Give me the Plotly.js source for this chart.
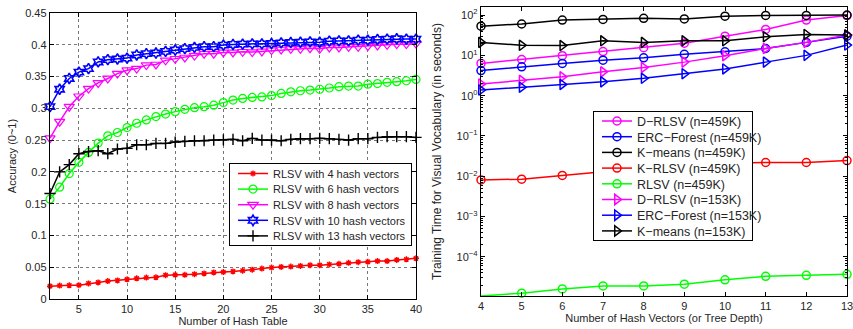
<!DOCTYPE html>
<html>
<head>
<meta charset="utf-8">
<script src="https://cdn.plot.ly/plotly-3.0.1.min.js"></script>
<style>html,body{margin:0;padding:0;background:#fff}#chart{width:853px;height:329px}</style>
</head>
<body>
<div id="chart"></div>
<script>
// ---------- Left chart data ----------
const hashTables = [];
for (let t = 2; t <= 40; t++) hashTables.push(t);
const acc4 = [0.0201,0.0212,0.0215,0.0218,0.0244,0.026,0.0282,0.0293,0.031,0.0326,0.0337,0.0342,0.0375,0.038,0.038,0.039,0.0402,0.0418,0.0424,0.0434,0.0445,0.0462,0.0478,0.0494,0.0505,0.051,0.0521,0.0532,0.0532,0.0543,0.0554,0.057,0.058,0.0586,0.0597,0.0597,0.0614,0.0624,0.064];
const acc6 = [0.157,0.176,0.1974,0.215,0.2307,0.2453,0.2567,0.262,0.2698,0.2765,0.2818,0.287,0.291,0.2948,0.2984,0.301,0.3026,0.305,0.309,0.313,0.3156,0.3172,0.318,0.320,0.3235,0.326,0.3277,0.3287,0.330,0.332,0.334,0.335,0.335,0.338,0.339,0.341,0.342,0.3434,0.3455];
const acc8 = [0.253,0.279,0.3026,0.319,0.331,0.340,0.347,0.3547,0.360,0.3625,0.368,0.369,0.3755,0.378,0.380,0.383,0.386,0.386,0.388,0.388,0.389,0.3885,0.3895,0.3916,0.3926,0.3937,0.3937,0.3947,0.3937,0.3958,0.3958,0.3968,0.3968,0.398,0.399,0.400,0.401,0.401,0.402];
const acc10 = [0.3026,0.330,0.347,0.357,0.3625,0.373,0.3766,0.3776,0.379,0.384,0.386,0.387,0.3896,0.3917,0.394,0.396,0.397,0.397,0.3995,0.4005,0.401,0.4015,0.4015,0.402,0.403,0.4036,0.404,0.4046,0.404,0.4057,0.4062,0.4062,0.4073,0.4073,0.4083,0.4089,0.4094,0.4089,0.4089];
const acc13 = [0.166,0.200,0.2115,0.2286,0.232,0.2333,0.2286,0.236,0.237,0.2427,0.2427,0.2448,0.2448,0.247,0.248,0.249,0.249,0.250,0.2505,0.2512,0.249,0.2528,0.2501,0.2501,0.249,0.2512,0.2522,0.2522,0.2528,0.2522,0.2512,0.2501,0.2522,0.2522,0.2543,0.2554,0.2554,0.2554,0.2543];
const leftNames = ["RLSV with 4 hash vectors","RLSV with 6 hash vectors","RLSV with 8 hash vectors","RLSV with 10 hash vectors","RLSV with 13 hash vectors"];
const leftXTicks = [5,10,15,20,25,30,35,40];

// ---------- Right chart data ----------
const depths = [4,5,6,7,8,9,10,11,12,13];
const dRlsv459 = [6.3,7.9,9.8,12.4,15.5,20,30,44,75,97];
const erc459 = [4.2,5.2,6.3,7.6,8.7,10.6,12.3,14.8,21,30];
const kmeans459 = [53,60,75,78,83,80,94,98,98,100];
const kRlsv459 = [0.0081,0.0085,0.0105,0.013,0.016,0.019,0.021,0.022,0.022,0.0245];
const rlsv459 = [1.07e-5,1.26e-5,1.6e-5,1.9e-5,1.9e-5,2.1e-5,2.7e-5,3.3e-5,3.5e-5,3.7e-5];
const dRlsv153 = [1.95,2.4,2.95,3.9,5.0,6.8,9.8,14.8,21,32];
const erc153 = [1.38,1.62,1.9,2.2,2.7,3.5,4.6,6.8,10,18];
const kmeans153 = [21,17.8,17.5,23,21,23,23,29,33,32];
const rightNames = ["D\u2212RLSV (n=459K)","ERC\u2212Forest (n=459K)","K\u2212means (n=459K)","K\u2212RLSV (n=459K)","RLSV (n=459K)","D\u2212RLSV (n=153K)","ERC\u2212Forest (n=153K)","K\u2212means (n=153K)"];
const logTickVals = [1e-4,1e-3,1e-2,1e-1,1,10,100];
const logTickText = ["10<sup>\u22124</sup>","10<sup>\u22123</sup>","10<sup>\u22122</sup>","10<sup>\u22121</sup>","10<sup>0</sup>","10<sup>1</sup>","10<sup>2</sup>"];

const RED="#ff0000", GREEN="#00ff00", MAG="#ff00ff", BLUE="#0000ff", BLK="#000000";

function leftTrace(y, name, color, symbol, size, lw){
  return {x: hashTables, y: y, name: name, type:'scatter', mode:'lines+markers',
    xaxis:'x', yaxis:'y', legend:'legend', cliponaxis:false,
    line:{color:color, width:1.5},
    marker:{symbol:symbol, size:size, color:color, line:{color:color, width:lw}}};
}
function rightTrace(y, name, color, symbol, size){
  return {x: depths, y: y, name: name, type:'scatter', mode:'lines+markers',
    xaxis:'x2', yaxis:'y2', legend:'legend2', cliponaxis:false,
    line:{color:color, width:1.5},
    marker:{symbol:symbol, size:size, color:color, line:{color:color, width:1.5}}};
}

const data = [
  leftTrace(acc4, leftNames[0], RED, 'asterisk-open', 5, 1.4),
  leftTrace(acc6, leftNames[1], GREEN, 'circle-open', 8, 1.2),
  leftTrace(acc8, leftNames[2], MAG, 'triangle-down-open', 9, 1.2),
  leftTrace(acc10, leftNames[3], BLUE, 'hexagram-open', 8, 1.6),
  leftTrace(acc13, leftNames[4], BLK, 'cross-thin-open', 8, 1.4),
  rightTrace(dRlsv459, rightNames[0], MAG, 'circle-open', 8),
  rightTrace(erc459, rightNames[1], BLUE, 'circle-open', 8),
  rightTrace(kmeans459, rightNames[2], BLK, 'circle-open', 8),
  rightTrace(kRlsv459, rightNames[3], RED, 'circle-open', 8),
  rightTrace(rlsv459, rightNames[4], GREEN, 'circle-open', 8),
  rightTrace(dRlsv153, rightNames[5], MAG, 'triangle-right-open', 9),
  rightTrace(erc153, rightNames[6], BLUE, 'triangle-right-open', 9),
  rightTrace(kmeans153, rightNames[7], BLK, 'triangle-right-open', 9)
];

const minorVals = [];
for (let e = -5; e <= 2; e++) for (let m = 2; m <= 9; m++) minorVals.push(m * Math.pow(10, e));

const FAM = 'Liberation Sans, Arial, sans-serif';
const FONT = {family:FAM, size:11, color:'#262626'};
const LEG2FONT = {family:FAM, size:12.5, color:'#262626'};
const YT2FONT = {family:FAM, size:12, color:'#262626'};
const W = 853, H = 329;
const axBase = {showline:true, linecolor:'#000', linewidth:1.2, mirror:'ticks', ticks:'inside', ticklen:4, tickcolor:'#000', zeroline:false, automargin:false, tickfont:FONT};

const layout = {
  width:W, height:H, margin:{l:0,r:0,t:0,b:0}, paper_bgcolor:'#fff', plot_bgcolor:'#fff',
  font:FONT, showlegend:true,
  xaxis: Object.assign({}, axBase, {domain:[50/W, 416/W], range:[2,40], tickmode:'array', tickvals:leftXTicks,
    showgrid:true, gridcolor:'#555', griddash:'dot', gridwidth:0.8, ticklabeloverflow:'allow',
    title:{text:'Number of Hash Table', font:FONT, standoff:2}}),
  yaxis: Object.assign({}, axBase, {domain:[1-299/H, 1-13/H], range:[0,0.45], dtick:0.05, tick0:0,
    showgrid:true, gridcolor:'#555', griddash:'dot', gridwidth:0.8,
    title:{text:'Accuracy (0~1)', font:FONT, standoff:6}}),
  xaxis2: Object.assign({}, axBase, {domain:[481/W, 847/W], range:[4,13], tickmode:'array', tickvals:depths, anchor:'y2', showgrid:false,
    ticklabeloverflow:'allow',
    title:{text:'Number of Hash Vectors (or Tree Depth)', font:FONT, standoff:2}}),
  yaxis2: Object.assign({}, axBase, {domain:[1-296/H, 1-7/H], type:'log', range:[-4.97, 2.2], anchor:'x2', showgrid:false,
    tickmode:'array', tickvals:logTickVals, ticktext:logTickText,
    minor:{tickmode:'array', tickvals:minorVals, ticks:'inside', ticklen:2, tickcolor:'#000', showgrid:false},
    title:{text:'Training Time for Visual Vocabulary (in seconds)', font:YT2FONT, standoff:12}}),
  legend: {x:229/W, y:1-163/H, xanchor:'left', yanchor:'top', bgcolor:'#fff', bordercolor:'#000', borderwidth:1,
    font:FONT, tracegroupgap:0, itemwidth:30},
  legend2: {x:593/W, y:1-111/H, xanchor:'left', yanchor:'top', bgcolor:'#fff', bordercolor:'#000', borderwidth:1,
    font:LEG2FONT, tracegroupgap:0, itemwidth:30}
};

// Tighten legend rows / box to match the compact MATLAB-style legend boxes
function tightenLegend(id, step, first, shiftX, boxW){
  const leg = document.querySelector('g.' + id);
  if (!leg) return;
  const traces = Array.from(leg.querySelectorAll('g.traces'));
  if (!traces.length) return;
  traces.forEach((t, i) => {
    const m = /translate\(\s*([-\d.eE]+)[ ,]+([-\d.eE]+)\s*\)/.exec(t.getAttribute('transform') || '');
    const x0 = m ? parseFloat(m[1]) : 0;
    t.setAttribute('transform', 'translate(' + (x0 + shiftX) + ',' + (first + i * step) + ')');
  });
  const bg = leg.querySelector('rect.bg');
  if (bg) {
    bg.setAttribute('height', 2 * first + (traces.length - 1) * step - 1);
    bg.setAttribute('width', boxW);
  }
}

Plotly.newPlot('chart', data, layout, {staticPlot:true, displayModeBar:false}).then(() => {
  tightenLegend('legend', 15.6, 10.5, 3, 182);
  tightenLegend('legend2', 15.7, 10, 3, 159);
});
</script>
</body>
</html>
